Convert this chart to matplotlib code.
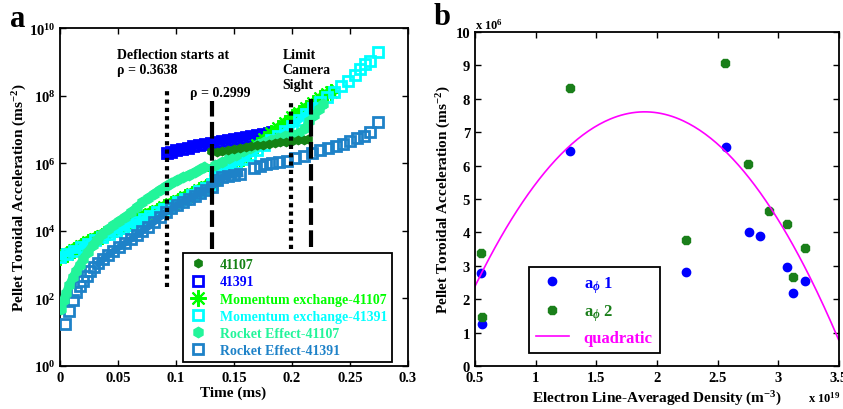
import numpy as np
import matplotlib
matplotlib.use('Agg')
import matplotlib.pyplot as plt
from matplotlib import ticker

plt.rcParams['font.family'] = ['Liberation Serif', 'DejaVu Serif']
plt.rcParams['font.weight'] = 'bold'
plt.rcParams['axes.labelweight'] = 'bold'
plt.rcParams['mathtext.fontset'] = 'custom'
plt.rcParams['mathtext.rm'] = 'Liberation Serif:bold'
plt.rcParams['mathtext.it'] = 'Liberation Serif:italic:bold'
plt.rcParams['mathtext.bf'] = 'Liberation Serif:bold'

# ---- panel a : measured and modelled acceleration vs time ----
t_41107 = [0.130, 0.135, 0.140, 0.145, 0.150, 0.155, 0.160, 0.165, 0.170,
           0.175, 0.180, 0.185, 0.190, 0.195, 0.200, 0.205, 0.210, 0.214]
acc_41107 = [2.3e6, 2.2e6, 2.3e6, 2.5e6, 2.6e6, 2.75e6, 2.95e6, 3.2e6, 3.4e6,
             3.55e6, 3.8e6, 4.0e6, 4.2e6, 4.4e6, 4.6e6, 4.8e6, 5.0e6, 5.2e6]

t_41391 = [0.092, 0.096, 0.100, 0.105, 0.110, 0.115, 0.120, 0.125, 0.130, 0.135,
           0.140, 0.145, 0.150, 0.155, 0.160, 0.165, 0.170, 0.175, 0.180, 0.183]
acc_41391 = [2.0e6, 2.2e6, 2.4e6, 2.6e6, 2.9e6, 3.2e6, 3.5e6, 3.7e6, 4.0e6, 4.3e6,
             4.6e6, 4.9e6, 5.2e6, 5.6e6, 6.0e6, 6.5e6, 6.9e6, 7.4e6, 7.9e6, 8.3e6]

t_mom_41107 = [0.000, 0.006, 0.012, 0.018, 0.024, 0.030, 0.036, 0.042, 0.048, 0.054,
               0.060, 0.066, 0.072, 0.078, 0.084, 0.090, 0.096, 0.102, 0.108, 0.114,
               0.120, 0.126, 0.131, 0.134, 0.140, 0.146, 0.152, 0.158, 0.164, 0.170,
               0.176, 0.182, 0.188, 0.194, 0.200, 0.206, 0.212, 0.218, 0.224, 0.230, 0.234]
acc_mom_41107 = [1.66e3, 2.1e3, 2.75e3, 3.55e3, 4.6e3, 5.75e3, 7.2e3, 9.1e3, 1.12e4, 1.38e4,
                 1.7e4, 2.1e4, 2.6e4, 3.2e4, 3.9e4, 4.9e4, 6.2e4, 7.8e4, 9.8e4, 1.23e5,
                 1.58e5, 2.0e5, 2.5e5, 6.3e5, 8.3e5, 1.0e6, 1.12e6, 1.41e6, 2.24e6, 3.55e6,
                 5.25e6, 7.6e6, 1.1e7, 1.58e7, 2.3e7, 3.16e7, 4.4e7, 6.0e7, 8.3e7, 1.12e8, 1.32e8]

t_mom_41391 = [0.000, 0.006, 0.012, 0.018, 0.024, 0.030, 0.036, 0.042, 0.048, 0.054,
               0.060, 0.066, 0.072, 0.078, 0.084, 0.090, 0.096, 0.102, 0.108, 0.114,
               0.120, 0.126, 0.131, 0.134, 0.140, 0.146, 0.152, 0.158, 0.164, 0.170,
               0.176, 0.182, 0.188, 0.194, 0.200, 0.206, 0.212, 0.218, 0.224, 0.230,
               0.236, 0.242, 0.248, 0.254, 0.259, 0.263, 0.267, 0.274]
acc_mom_41391 = [1.7e3, 2.1e3, 2.6e3, 3.3e3, 4.2e3, 5.2e3, 6.5e3, 7.9e3, 9.8e3, 1.2e4,
                 1.5e4, 1.8e4, 2.2e4, 2.8e4, 3.5e4, 4.5e4, 5.6e4, 7.1e4, 8.9e4, 1.15e5,
                 1.5e5, 1.9e5, 2.4e5, 5.9e5, 7.1e5, 8.5e5, 1.0e6, 1.3e6, 1.8e6, 2.5e6,
                 3.5e6, 4.8e6, 6.3e6, 8.9e6, 1.26e7, 1.86e7, 2.8e7, 4.2e7, 6.3e7, 9.3e7,
                 1.3e8, 1.9e8, 2.8e8, 4.2e8, 6.3e8, 8.5e8, 1.05e9, 1.95e9]

t_rock_41107 = [0.001, 0.003, 0.005, 0.008, 0.011, 0.014, 0.017, 0.020, 0.024, 0.028,
                0.032, 0.036, 0.041, 0.046, 0.051, 0.056, 0.061, 0.066, 0.071, 0.076,
                0.081, 0.086, 0.091, 0.096, 0.101, 0.106, 0.111, 0.116, 0.121, 0.124,
                0.134, 0.140, 0.146, 0.152, 0.158, 0.164, 0.170, 0.176, 0.182, 0.188,
                0.194, 0.200, 0.206, 0.211, 0.215, 0.219, 0.223, 0.227]
acc_rock_41107 = [49, 89, 140, 250, 420, 660, 1.0e3, 1.5e3, 2.4e3, 3.7e3,
                  5.5e3, 7.9e3, 1.1e4, 1.5e4, 2.0e4, 2.6e4, 3.5e4, 5.0e4, 6.9e4, 9.5e4,
                  1.26e5, 1.66e5, 2.1e5, 2.6e5, 3.2e5, 3.8e5, 4.6e5, 5.5e5, 6.6e5, 7.6e5,
                  8.9e5, 1.12e6, 1.41e6, 1.78e6, 2.24e6, 2.8e6, 3.5e6, 4.2e6, 4.8e6, 5.5e6,
                  6.3e6, 7.1e6, 7.9e6, 1.12e7, 1.8e7, 2.6e7, 4.0e7, 5.6e7]

t_rock_41391 = [0.004, 0.008, 0.011, 0.014, 0.017, 0.020, 0.023, 0.026, 0.029, 0.033,
                0.037, 0.041, 0.046, 0.051, 0.056, 0.061, 0.066, 0.071, 0.076, 0.081,
                0.086, 0.091, 0.096, 0.101, 0.106, 0.111, 0.116, 0.121, 0.126, 0.131,
                0.135, 0.140, 0.145, 0.150, 0.155, 0.167, 0.172, 0.178, 0.183, 0.189,
                0.196, 0.203, 0.210, 0.217, 0.224, 0.231, 0.238, 0.244, 0.250, 0.256,
                0.262, 0.267, 0.274]
acc_rock_41391 = [17, 42, 90, 150, 240, 330, 460, 630, 830, 1.1e3,
                  1.45e3, 1.9e3, 2.5e3, 3.3e3, 4.3e3, 5.6e3, 7.6e3, 1.0e4, 1.3e4, 1.8e4,
                  2.5e4, 3.5e4, 4.6e4, 5.8e4, 7.2e4, 8.9e4, 1.1e5, 1.35e5, 1.66e5, 2.0e5,
                  3.3e5, 3.8e5, 4.2e5, 4.6e5, 4.8e5, 7.1e5, 8.3e5, 9.3e5, 1.0e6, 1.07e6,
                  1.2e6, 1.4e6, 1.6e6, 2.0e6, 2.4e6, 2.75e6, 3.2e6, 3.7e6, 4.5e6, 5.5e6,
                  6.6e6, 8.3e6, 1.66e7]

# vertical markers: deflection start / limit of camera sight
vline_t = [0.092, 0.131, 0.199, 0.216]
vline_lo = [2.2e2, 2.9e3, 2.9e3, 3.3e3]
vline_hi = [1.4e8, 6.9e7, 6.9e7, 7.9e7]
vline_style = [(0, (1, 1)), (0, (4, 1.3)), (0, (1, 1)), (0, (4, 1.3))]

# ---- panel b : acceleration vs density ----
ne_a1 = [0.547, 0.56, 1.283, 2.236, 2.569, 2.758, 2.849, 3.074, 3.124, 3.22]
acc_a1 = [2.78, 1.27, 6.45, 2.80, 6.55, 4.00, 3.90, 2.96, 2.19, 2.54]
ne_a2 = [0.547, 0.56, 1.283, 2.236, 2.56, 2.753, 2.923, 3.074, 3.124, 3.22]
acc_a2 = [3.37, 1.48, 8.32, 3.77, 9.08, 6.05, 4.65, 4.25, 2.67, 3.52]
quad_coef = [-2.667, 10.13, -2.01]

c_dg = '#148214'
c_blue = '#0000ff'
c_lime = '#00ff00'
c_cyan = '#00ffff'
c_spring = '#22f59a'
c_steel = '#1e82c8'
c_mag = '#ff00ff'

fig = plt.figure(figsize=(8.43, 4.10), dpi=100)
ax1 = fig.add_axes([0.0712, 0.105, 0.4128, 0.824])
ax2 = fig.add_axes([0.5635, 0.105, 0.4315, 0.8145])

# dense parts of the marker clouds drawn as solid bands underneath the markers
ax1.plot(t_41391, acc_41391, color=c_blue, lw=6, zorder=2)
ax1.plot(t_mom_41107[:23], acc_mom_41107[:23], color=c_lime, lw=9, zorder=3)
ax1.plot(t_mom_41107[23:], acc_mom_41107[23:], color=c_lime, lw=7, zorder=3)
ax1.plot(t_mom_41391[:23], acc_mom_41391[:23], color=c_cyan, lw=5, zorder=4)
ax1.plot(t_mom_41391[23:38], acc_mom_41391[23:38], color=c_cyan, lw=5, zorder=4)
ax1.plot(t_rock_41391[9:35], acc_rock_41391[9:35], color=c_steel, lw=5, zorder=5)
ax1.plot(t_rock_41107[:30], acc_rock_41107[:30], color=c_spring, lw=6, zorder=6)
ax1.plot(t_rock_41107[30:], acc_rock_41107[30:], color=c_spring, lw=5, zorder=6)

h_dg, = ax1.plot(t_41107, acc_41107, 'h', color=c_dg, ms=6, ls='none', zorder=7,
                 label='41107')
h_bl, = ax1.plot(t_41391, acc_41391, 's', mec=c_blue, mfc='none', mew=2, ms=6.5,
                 ls='none', zorder=2, label='41391')
h_lm, = ax1.plot(t_mom_41107, acc_mom_41107, marker=(8, 2, 0), color=c_lime, ms=12,
                 mew=1.5, ls='none', zorder=3, label='Momentum exchange-41107')
h_cy, = ax1.plot(t_mom_41391, acc_mom_41391, 's', mec=c_cyan, mfc='none', mew=2,
                 ms=6.5, ls='none', zorder=4, label='Momentum exchange-41391')
h_sp, = ax1.plot(t_rock_41107, acc_rock_41107, 'h', color=c_spring, ms=7.5,
                 ls='none', zorder=6, label='Rocket Effect-41107')
h_st, = ax1.plot(t_rock_41391, acc_rock_41391, 's', mec=c_steel, mfc='none', mew=2,
                 ms=6.5, ls='none', zorder=5, label='Rocket Effect-41391')

for x, lo, hi, st in zip(vline_t, vline_lo, vline_hi, vline_style):
    ax1.vlines(x, lo, hi, colors='k', linestyles=[st], lw=3, zorder=8)

ax1.set_yscale('log')
ax1.set_xlim(0, 0.3)
ax1.set_ylim(1, 1e10)
ax1.set_xticks([0, 0.05, 0.1, 0.15, 0.2, 0.25, 0.3])
ax1.xaxis.set_major_formatter(ticker.FuncFormatter(lambda v, p: ('%g' % v)))
ax1.set_yticks([1e0, 1e2, 1e4, 1e6, 1e8, 1e10])
ax1.yaxis.set_minor_locator(ticker.NullLocator())
ax1.yaxis.set_major_formatter(ticker.FuncFormatter(
    lambda v, p: r'$10^{%d}$' % round(np.log10(v))))

ax1.text(0.049, 10**9.4, 'Deflection starts at\n\u03c1 = 0.3638', fontsize=10,
         fontweight='bold', va='top', ha='left', linespacing=1.2)
ax1.text(0.112, 10**8.1, '\u03c1 = 0.2999', fontsize=10, fontweight='bold',
         va='center', ha='left')
ax1.text(0.192, 10**9.4, 'Limit\nCamera\nSight', fontsize=10, fontweight='bold',
         va='top', ha='left', linespacing=1.2)

ax1.set_xlabel('Time (ms)', fontsize=11)
ax1.set_ylabel('Pellet Toroidal Acceleration (ms$^{-2}$)', fontsize=11)
ax1.xaxis.set_label_coords(0.497, -0.058)
ax1.yaxis.set_label_coords(-0.09, 0.5)

leg1 = ax1.legend(handles=[h_dg, h_bl, h_lm, h_cy, h_sp, h_st], loc='lower left',
                  bbox_to_anchor=(0.353, 0.012), borderaxespad=0, fontsize=10,
                  labelspacing=0.3, handlelength=1.5, handletextpad=0.8,
                  borderpad=0.35, fancybox=False, framealpha=1, edgecolor='k')
leg1.get_frame().set_linewidth(1.3)
leg1.set_zorder(10)
for txt, c in zip(leg1.get_texts(), [c_dg, c_blue, c_lime, c_cyan, c_spring, c_steel]):
    txt.set_color(c)

# panel b
h_a1, = ax2.plot(ne_a1, acc_a1, 'o', color=c_blue, ms=6, ls='none',
                 label=r'a$_{\phi}$ 1')
h_a2, = ax2.plot(ne_a2, acc_a2, '8', color='#1a7f1a', ms=7, ls='none',
                 label=r'a$_{\phi}$ 2')
quad_x = np.linspace(0.5, 3.5, 200)
h_q, = ax2.plot(quad_x, np.polyval(quad_coef, quad_x), color=c_mag, lw=1.2,
                label='quadratic')
ax2.set_xlim(0.5, 3.5)
ax2.set_ylim(0, 10)
ax2.set_xticks([0.5, 1, 1.5, 2, 2.5, 3, 3.5])
ax2.xaxis.set_major_formatter(ticker.FuncFormatter(lambda v, p: ('%g' % v)))
ax2.set_yticks(range(0, 11))
ax2.set_xlabel('Electron Line-Averaged Density (m$^{-3}$)', fontsize=11)
ax2.set_ylabel('Pellet Toroidal Acceleration (ms$^{-2}$)', fontsize=11)
ax2.xaxis.set_label_coords(0.5, -0.068)
ax2.yaxis.set_label_coords(-0.06, 0.5)
ax2.text(0.0, 1.0, r'x 10$^{6}$', transform=ax2.transAxes, fontsize=9,
         ha='left', va='bottom')
ax2.text(0.915, -0.093, r'x 10$^{19}$', transform=ax2.transAxes, fontsize=9,
         ha='left', va='center')

leg2 = ax2.legend(handles=[h_a1, h_a2, h_q], loc='lower left',
                  bbox_to_anchor=(0.148, 0.039), borderaxespad=0, fontsize=12,
                  labelspacing=0.45, handlelength=2.0, handletextpad=0.9,
                  borderpad=0.4, fancybox=False, framealpha=1, edgecolor='k')
leg2.get_frame().set_linewidth(1.3)
for txt, c in zip(leg2.get_texts(), [c_blue, '#1a7f1a', c_mag]):
    txt.set_color(c)

for ax in (ax1, ax2):
    ax.tick_params(direction='in', top=True, right=True, length=4, width=1,
                   labelsize=10.5, which='both')
    for sp in ax.spines.values():
        sp.set_linewidth(1.3)

fig.text(0.012, 0.934, 'a', fontsize=22, fontweight='bold', ha='left', va='baseline')
fig.text(0.514, 0.939, 'b', fontsize=22, fontweight='bold', ha='left', va='baseline')

fig.savefig('out.png', dpi=100)
